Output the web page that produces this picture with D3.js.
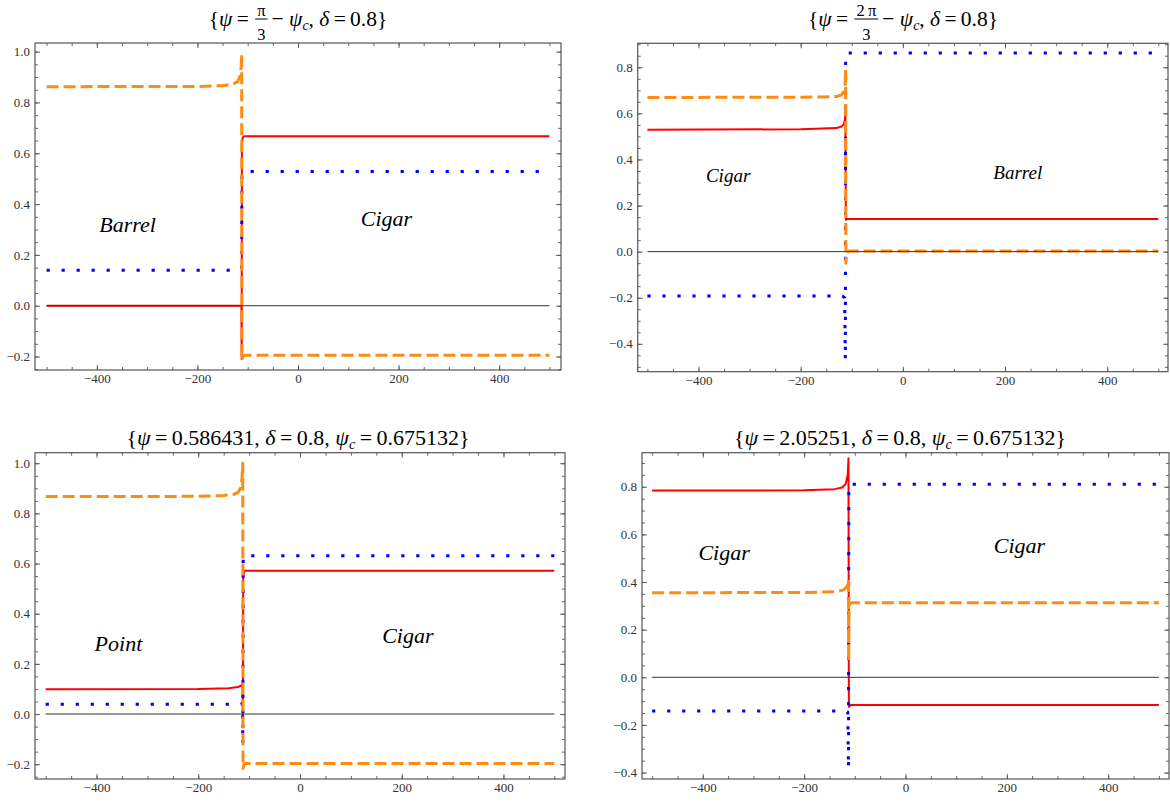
<!DOCTYPE html>
<html><head><meta charset="utf-8">
<script src="https://cdn.jsdelivr.net/npm/d3@7"></script>
<style>
html,body{margin:0;padding:0;background:#fff;}
svg{display:block;}
svg text{font-family:'Liberation Serif','Times New Roman',serif;}
</style></head>
<body><svg id="c" width="1170" height="802"></svg>
<script>
// ---------- DATA ----------
// Panel 1: {ψ = π/3 − ψc, δ = 0.8}
const p1OrangeX = [-500, -200, -150, -130, -120, -115, -113, -112, -111.5, -110, -105, 500];
const p1OrangeY = [0.862, 0.863, 0.866, 0.872, 0.882, 0.905, 0.94, 0.99, -0.215, -0.2, -0.195, -0.195];
const p1RedX = [-500, -112.5, -112, -111.5, -110, -107, 500];
const p1RedY = [0.0, 0.0, -0.21, 0.64, 0.662, 0.667, 0.667];
const p1BlueX = [-500, -116, -113, -112, -111.5, -108, 500];
const p1BlueY = [0.14, 0.14, 0.146, 0.15, 0.52, 0.528, 0.528];

// Panel 2: {ψ = 2π/3 − ψc, δ = 0.8}
const p2OrangeX = [-500, -200, -130, -120, -116, -113, -112, -111.5, -110, -105, 500];
const p2OrangeY = [0.669, 0.67, 0.673, 0.68, 0.695, 0.72, 0.79, -0.05, -0.005, 0.003, 0.003];
const p2RedX = [-500, -200, -130, -120, -116, -113, -112.5, -111.5, -109, 500];
const p2RedY = [0.529, 0.531, 0.536, 0.543, 0.552, 0.575, 0.615, 0.138, 0.142, 0.142];
const p2BlueX = [-500, -118, -114, -112.5, -112, -109, 500];
const p2BlueY = [-0.193, -0.193, -0.2, -0.47, 0.862, 0.862, 0.862];

// Panel 3: {ψ = 0.586431, δ = 0.8, ψc = 0.675132}
const p3OrangeX = [-500, -200, -150, -130, -122, -117, -114, -112.5, -112, -110, -105, 500];
const p3OrangeY = [0.867, 0.868, 0.871, 0.876, 0.884, 0.9, 0.94, 1.0, -0.217, -0.2, -0.197, -0.197];
const p3RedX = [-500, -200, -140, -122, -116, -113, -112.3, -111.7, -109, 500];
const p3RedY = [0.099, 0.1, 0.103, 0.108, 0.113, 0.12, -0.02, 0.55, 0.571, 0.571];
const p3BlueX = [-500, -116, -113, -112.3, -111.7, -108, 500];
const p3BlueY = [0.039, 0.039, 0.045, -0.12, 0.63, 0.631, 0.631];

// Panel 4: {ψ = 2.05251, δ = 0.8, ψc = 0.675132}
const p4RedX = [-500, -200, -140, -125, -118, -114, -112.5, -111.8, -108, 500];
const p4RedY = [0.784, 0.785, 0.79, 0.797, 0.812, 0.85, 0.92, -0.124, -0.116, -0.116];
const p4OrangeX = [-500, -200, -135, -122, -116, -113, -112.3, -112, -111.6, -108, 500];
const p4OrangeY = [0.355, 0.356, 0.36, 0.367, 0.38, 0.395, 0.41, 0.07, 0.3, 0.313, 0.313];
const p4BlueX = [-500, -118, -114, -112.5, -111.8, -108, 500];
const p4BlueY = [-0.142, -0.142, -0.146, -0.382, 0.811, 0.811, 0.811];

const zeroX = [-500, 500];
const zeroY = [0, 0];

const xTickLabels = [-400, -200, 0, 200, 400];
const yTicksA = [-0.2, 0.0, 0.2, 0.4, 0.6, 0.8, 1.0];
const yTicksB = [-0.4, -0.2, 0.0, 0.2, 0.4, 0.6, 0.8];

// annotation labels [text, x, y]
const p1Labels = [["Barrel", -339, 0.32], ["Cigar", 176, 0.345]];
const p2Labels = [["Cigar", -342, 0.329], ["Barrel", 225, 0.342]];
const p3Labels = [["Point", -357, 0.28], ["Cigar", 212, 0.315]];
const p4Labels = [["Cigar", -358, 0.526], ["Cigar", 225, 0.552]];

// ---------- DRAWING ----------
const svg = d3.select("#c");
const SERIF = "'Liberation Serif','Times New Roman',serif";

function zip(xs, ys) { return xs.map((v, i) => [v, ys[i]]); }

function panel(cfg) {
  const x = d3.scaleLinear().domain(cfg.xd).range(cfg.xr);
  const y = d3.scaleLinear().domain(cfg.yd).range(cfg.yr);
  const g = svg.append("g");
  const line = d3.line().x(d => x(d[0])).y(d => y(d[1]));

  const styles = {
    orange: {stroke: "#ff8c12", w: 3, dash: "12,5"},
    red: {stroke: "#ff0000", w: 2, dash: null},
    blue: {stroke: "#0000ff", w: 3, dash: "3.2,11.8"}
  };
  cfg.series.forEach(se => {
    const st = styles[se.c];
    g.append("path").datum(zip(se.x, se.y))
      .attr("d", line).attr("fill", "none")
      .attr("stroke", st.stroke).attr("stroke-width", st.w)
      .attr("stroke-dasharray", st.dash)
      .attr("stroke-linejoin", "round");
  });
  g.append("path").datum(zip(zeroX, zeroY)).attr("d", line)
    .attr("fill", "none").attr("stroke", "#333").attr("stroke-width", 1);

  cfg.labels.forEach(l => {
    g.append("text").attr("x", x(l[1])).attr("y", y(l[2]))
      .attr("text-anchor", "middle").attr("dominant-baseline", "central")
      .style("font-family", SERIF).style("font-style", "italic")
      .style("font-size", cfg.lfs + "px").attr("fill", "#000").text(l[0]);
  });

  const x0 = cfg.xr[0], x1 = cfg.xr[1], yb = cfg.yr[0], yt = cfg.yr[1];
  const minorX = d3.range(-500, 501, 50);
  const minorY = d3.range(Math.ceil(cfg.yd[0] / 0.05) * 0.05, cfg.yd[1], 0.05).map(v => Math.round(v * 100) / 100);
  const majL = 5, minL = 3;
  function ax(gen, tr, vals, size, fmt, labeled) {
    const a = gen.tickValues(vals).tickSizeInner(size).tickSizeOuter(0).tickPadding(labeled ? 4 : 0);
    a.tickFormat(labeled ? fmt : () => "");
    const ag = g.append("g").attr("transform", tr).call(a)
      .attr("font-family", SERIF).attr("font-size", 13);
    ag.select(".domain").remove();
    ag.selectAll("line").attr("stroke", "#555").attr("stroke-width", 0.9);
    ag.selectAll("text").style("font-family", SERIF).style("font-size", "13px").attr("fill", "#333");
    return ag;
  }
  const fx = d3.format("d"), fy = d3.format(".1f");
  ax(d3.axisBottom(x), `translate(0,${yb})`, minorX, -minL, fx, false);
  ax(d3.axisBottom(x), `translate(0,${yb})`, xTickLabels, -majL, fx, true);
  ax(d3.axisTop(x), `translate(0,${yt})`, minorX, -minL, fx, false);
  ax(d3.axisTop(x), `translate(0,${yt})`, xTickLabels, -majL, fx, false);
  ax(d3.axisLeft(y), `translate(${x0},0)`, minorY, -minL, fy, false);
  ax(d3.axisLeft(y), `translate(${x0},0)`, cfg.yt, -majL, fy, true).selectAll("text").attr("dx", "-1");
  ax(d3.axisRight(y), `translate(${x1},0)`, minorY, -minL, fy, false);
  ax(d3.axisRight(y), `translate(${x1},0)`, cfg.yt, -majL, fy, false);

  g.append("rect").attr("x", x0).attr("y", yt).attr("width", x1 - x0).attr("height", yb - yt)
    .attr("fill", "none").attr("stroke", "#555").attr("stroke-width", 1.2);
}

function mathTitle(cx, base, parts, fs) {
  const g = svg.append("g");
  let cur = 0;
  parts.forEach(p => {
    if (p.frac) {
      const nf = 16.5;
      const tn = g.append("text").style("font-family", SERIF).style("font-size", nf + "px").attr("text-anchor", "middle").text(p.frac[0]);
      const td = g.append("text").style("font-family", SERIF).style("font-size", nf + "px").attr("text-anchor", "middle").text(p.frac[1]);
      const w = Math.max(tn.node().getComputedTextLength(), td.node().getComputedTextLength()) + 4;
      const c = cur + w / 2 + 2;
      tn.attr("x", c).attr("y", base - 10.5);
      td.attr("x", c).attr("y", base + 14);
      g.append("line").attr("x1", cur + 2).attr("x2", cur + w + 2).attr("y1", base - 7).attr("y2", base - 7)
        .attr("stroke", "#000").attr("stroke-width", 1);
      cur += w + 6;
    } else {
      const sz = p.sub ? fs * 0.65 : fs;
      const t = g.append("text").style("font-family", SERIF).style("font-size", sz + "px")
        .style("font-style", p.it ? "italic" : "normal")
        .attr("x", cur).attr("y", p.sub ? base + 4 : base)
        .style("white-space", "pre").text(p.t);
      cur += t.node().getComputedTextLength();
    }
  });
  g.attr("transform", `translate(${cx - cur / 2},0)`);
}

const S = "\u2009";
mathTitle(298, 26, [
  {t: "{"}, {t: "ψ", it: true}, {t: S + "=" + S}, {frac: ["π", "3"]}, {t: "− "}, {t: "ψ", it: true}, {t: "c", it: true, sub: true},
  {t: ", "}, {t: "δ", it: true}, {t: S + "=" + S + "0.8}"}
], 21.5);
mathTitle(903, 26, [
  {t: "{"}, {t: "ψ", it: true}, {t: S + "=" + S}, {frac: ["2" + S + "π", "3"]}, {t: "− "}, {t: "ψ", it: true}, {t: "c", it: true, sub: true},
  {t: ", "}, {t: "δ", it: true}, {t: S + "=" + S + "0.8}"}
], 21.5);
mathTitle(298, 445, [
  {t: "{"}, {t: "ψ", it: true}, {t: S + "=" + S + "0.586431, "}, {t: "δ", it: true}, {t: S + "=" + S + "0.8, "},
  {t: "ψ", it: true}, {t: "c", it: true, sub: true}, {t: S + "=" + S + "0.675132}"}
], 22);
mathTitle(900, 445, [
  {t: "{"}, {t: "ψ", it: true}, {t: S + "=" + S + "2.05251, "}, {t: "δ", it: true}, {t: S + "=" + S + "0.8, "},
  {t: "ψ", it: true}, {t: "c", it: true, sub: true}, {t: S + "=" + S + "0.675132}"}
], 22);

panel({xd: [-523, 523], xr: [35, 561], yd: [-0.253, 1.034], yr: [370, 43], yt: yTicksA, lfs: 22,
  labels: p1Labels,
  series: [{c: "red", x: p1RedX, y: p1RedY}, {c: "blue", x: p1BlueX, y: p1BlueY}, {c: "orange", x: p1OrangeX, y: p1OrangeY}]});
panel({xd: [-519, 519], xr: [637.7, 1168], yd: [-0.521, 0.904], yr: [371.7, 43.3], yt: yTicksB, lfs: 19,
  labels: p2Labels,
  series: [{c: "red", x: p2RedX, y: p2RedY}, {c: "blue", x: p2BlueX, y: p2BlueY}, {c: "orange", x: p2OrangeX, y: p2OrangeY}]});
panel({xd: [-521, 521], xr: [35, 565], yd: [-0.259, 1.042], yr: [779, 452.7], yt: yTicksA, lfs: 22,
  labels: p3Labels,
  series: [{c: "red", x: p3RedX, y: p3RedY}, {c: "blue", x: p3BlueX, y: p3BlueY}, {c: "orange", x: p3OrangeX, y: p3OrangeY}]});
panel({xd: [-520, 520], xr: [642, 1169], yd: [-0.427, 0.943], yr: [779, 452.7], yt: yTicksB, lfs: 22,
  labels: p4Labels,
  series: [{c: "red", x: p4RedX, y: p4RedY}, {c: "blue", x: p4BlueX, y: p4BlueY}, {c: "orange", x: p4OrangeX, y: p4OrangeY}]});
</script>
</body></html>
